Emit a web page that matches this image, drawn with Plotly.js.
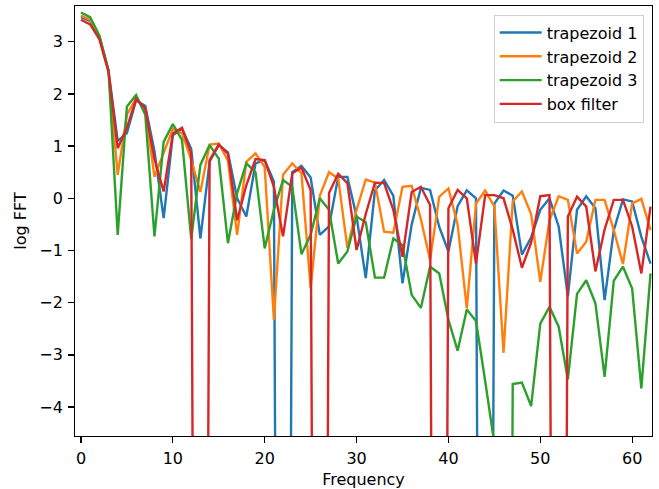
<!DOCTYPE html>
<html>
<head>
<meta charset="utf-8">
<script src="https://cdn.plot.ly/plotly-3.0.1.min.js"></script>
<style>html,body{margin:0;padding:0;background:#fff;}#chart{width:659px;height:489px;}</style>
</head>
<body>
<div id="chart"></div>
<script>
// Frequency bins 0..62
const frequency = [0,1,2,3,4,5,6,7,8,9,10,11,12,13,14,15,16,17,18,19,20,21,22,23,24,25,26,27,28,29,30,31,32,33,34,35,36,37,38,39,40,41,42,43,44,45,46,47,48,49,50,51,52,53,54,55,56,57,58,59,60,61,62];

// log FFT values (-37 = effectively log(0), falls far below the axis)
const trapezoid1 = [3.47,3.40,3.10,2.44,1.10,1.25,1.88,1.77,0.90,-0.38,1.21,1.33,0.95,-0.77,0.70,1.02,0.88,0.00,-0.35,0.67,0.73,0.32,-37,0.50,0.62,0.40,-0.70,-0.54,0.41,0.41,-0.35,-1.53,0.15,0.35,0.05,-1.63,-0.50,0.20,0.16,-0.55,-1.02,-0.15,0.15,0.00,-37,-0.10,0.15,0.05,-1.08,-0.75,-0.22,0.00,-0.54,-1.88,-0.22,0.04,-0.19,-1.95,-0.61,-0.02,-0.06,-0.74,-1.25];
const trapezoid2 = [3.50,3.42,3.10,2.44,0.45,1.60,1.92,1.70,0.41,0.88,1.33,1.25,0.73,0.12,1.03,1.05,0.72,-0.70,0.70,0.86,0.60,-2.33,0.45,0.67,0.48,-1.72,0.05,0.50,0.38,-0.95,-0.22,0.36,0.30,-0.64,-0.66,0.22,0.24,-0.40,-1.18,0.03,0.19,-0.50,-2.11,-0.10,0.15,-0.16,-2.96,-0.06,0.13,-0.30,-1.60,-0.42,0.04,-0.03,-1.06,-0.83,-0.03,-0.03,-0.61,-1.26,-0.10,-0.01,-0.61];
const trapezoid3 = [3.56,3.47,3.12,2.45,-0.70,1.76,1.98,1.60,-0.73,1.08,1.42,1.12,-0.78,0.64,1.02,0.76,-0.86,0.10,0.67,0.50,-0.96,-0.22,0.35,0.22,-1.07,-0.70,0.00,-0.22,-1.25,-1.02,-0.35,-0.46,-1.52,-1.52,-0.77,-0.90,-1.85,-2.10,-1.31,-1.44,-2.33,-2.92,-2.13,-2.35,-3.50,-4.70,-37,-3.56,-3.53,-3.98,-2.40,-2.08,-2.46,-3.47,-1.83,-1.57,-2.01,-3.42,-1.58,-1.31,-1.73,-3.64,-1.44];
const boxFilter = [3.42,3.33,3.05,2.42,0.96,1.35,1.90,1.72,0.75,0.13,1.24,1.35,0.86,-37,0.73,1.03,0.85,-0.42,0.25,0.75,0.73,0.22,-0.73,0.48,0.59,0.16,-37,0.10,0.47,0.29,-0.99,-0.30,0.30,0.29,-0.22,-1.12,0.12,0.22,-0.13,-37,-0.19,0.16,0.00,-1.25,0.06,0.06,0.00,-0.60,-1.33,-0.85,0.04,0.06,-37,-0.35,0.03,-0.16,-1.40,-0.60,-0.03,-0.03,-0.54,-1.44,-0.16];

const seriesNames = ["trapezoid 1","trapezoid 2","trapezoid 3","box filter"];
const seriesValues = [trapezoid1, trapezoid2, trapezoid3, boxFilter];
const seriesColors = ["#1f77b4","#ff7f0e","#2ca02c","#d62728"];

const xTicks = [0,10,20,30,40,50,60];
const yTicks = [-4,-3,-2,-1,0,1,2,3];

const traces = seriesNames.map((name, i) => ({
  type: "scatter",
  mode: "lines",
  name: name,
  x: frequency,
  y: seriesValues[i],
  line: {color: seriesColors[i], width: 2.4},
  hoverinfo: "skip"
}));

const font = {family: "DejaVu Sans, sans-serif", size: 16, color: "#000"};

const layout = {
  width: 659,
  height: 489,
  margin: {l: 75, r: 7, t: 6, b: 53, pad: 0},
  paper_bgcolor: "#fff",
  plot_bgcolor: "#fff",
  font: font,
  showlegend: true,
  legend: {
    x: 0.9856, y: 0.980, xanchor: "right", yanchor: "top",
    bgcolor: "rgba(255,255,255,0.8)",
    bordercolor: "#d0d0d0", borderwidth: 1,
    itemwidth: 42,
    font: font
  },
  xaxis: {
    range: [-0.65, 62.16],
    tickvals: xTicks,
    ticktext: xTicks.map(String),
    ticks: "outside", ticklen: 5.6, tickwidth: 1.3, tickcolor: "#000",
    showline: true, linecolor: "#000", linewidth: 1.3, mirror: true,
    showgrid: false, zeroline: false,
    tickfont: font,
    ticklabelstandoff: 2,
    title: {text: "Frequency", font: font, standoff: 7}
  },
  yaxis: {
    range: [-4.554, 3.684],
    tickvals: yTicks,
    ticktext: yTicks.map(v => v < 0 ? "\u2212" + Math.abs(v) : String(v)),
    ticks: "outside", ticklen: 5.6, tickwidth: 1.3, tickcolor: "#000",
    showline: true, linecolor: "#000", linewidth: 1.3, mirror: true,
    showgrid: false, zeroline: false,
    tickfont: font,
    ticklabelstandoff: 2,
    title: {text: "log FFT", font: font, standoff: 8}
  }
};

Plotly.newPlot("chart", traces, layout, {displayModeBar: false, staticPlot: true});
</script>
</body>
</html>
